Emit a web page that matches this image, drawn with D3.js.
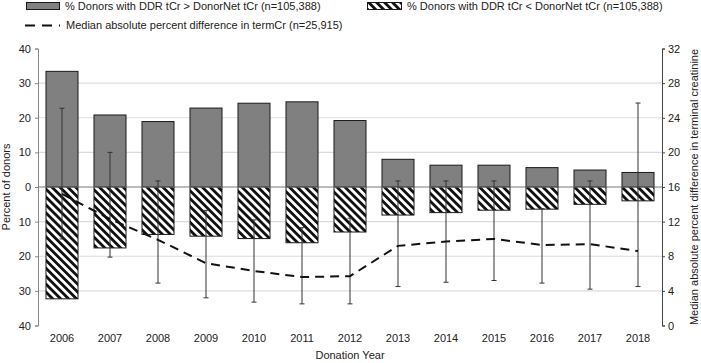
<!DOCTYPE html>
<html>
<head>
<meta charset="utf-8">
<script src="https://cdn.jsdelivr.net/npm/d3@7"></script>
<style>
  body { margin: 0; background: #fff; }
  text { font-family: "Liberation Sans", Arial, sans-serif; fill: #222; }
</style>
</head>
<body>
<script>
// data
var years = ["2006", "2007", "2008", "2009", "2010", "2011", "2012", "2013", "2014", "2015", "2016", "2017", "2018"];
var pctHigher = [33.4, 20.8, 18.9, 22.8, 24.2, 24.6, 19.2, 8.0, 6.3, 6.3, 5.6, 4.9, 4.2];
var pctLower = [32.3, 17.6, 13.7, 14.2, 14.9, 16.1, 13.0, 8.1, 7.4, 6.7, 6.4, 5.0, 4.0];
var medianDiff = [15.2, 12.3, 9.9, 7.2, 6.3, 5.6, 5.7, 9.2, 9.7, 10.0, 9.3, 9.4, 8.6];
var errLow = [10.0, 7.9, 4.9, 3.2, 2.7, 2.5, 2.5, 4.5, 5.0, 5.2, 4.9, 4.2, 4.5];
var errHigh = [25.1, 20.0, 16.7, 13.3, 12.2, 11.3, 12.4, 16.7, 16.7, 16.7, 13.5, 16.7, 25.7];
var leftTicks = [40, 30, 20, 10, 0, -10, -20, -30, -40];
var rightTicks = [0, 4, 8, 12, 16, 20, 24, 28, 32];

var W = 701, H = 363;
var margin = {top: 48.5, right: 39, bottom: 37.5, left: 38};
var width = W - margin.left - margin.right;
var height = H - margin.top - margin.bottom;

var svg = d3.select("body")
    .append("svg")
    .attr("width", W)
    .attr("height", H);

var defs = svg.append("defs");
var pat = defs.append("pattern")
    .attr("id", "hatch")
    .attr("patternUnits", "userSpaceOnUse")
    .attr("width", 5.6)
    .attr("height", 5.6)
    .attr("patternTransform", "rotate(-45)");
pat.append("rect").attr("width", 5.6).attr("height", 5.6).attr("fill", "#fff");
pat.append("rect").attr("width", 2.8).attr("height", 5.6).attr("fill", "#111");

var g = svg.append("g")
    .attr("transform", `translate(${margin.left}, ${margin.top})`);

const x = d3.scaleBand()
    .domain(years)
    .range([0, width])
    .paddingInner(0.333)
    .paddingOuter(0.1665);

const y = d3.scaleLinear()
    .domain([-40, 40])
    .range([height, 0]);

const y2 = d3.scaleLinear()
    .domain([0, 32])
    .range([height, 0]);

// gridlines
g.selectAll(".grid")
    .data(leftTicks.filter(d => d !== 0 && Math.abs(d) !== 40))
    .enter()
    .append("line")
    .attr("x1", 0)
    .attr("x2", width)
    .attr("y1", d => y(d))
    .attr("y2", d => y(d))
    .attr("stroke", "#dcdcdc")
    .attr("stroke-width", 1.2);

// positive bars
g.selectAll(".up")
    .data(years)
    .enter()
    .append("rect")
    .attr("x", d => x(d))
    .attr("y", (d, i) => y(pctHigher[i]))
    .attr("width", x.bandwidth())
    .attr("height", (d, i) => y(0) - y(pctHigher[i]))
    .attr("fill", "#808080")
    .attr("stroke", "#1a1a1a")
    .attr("stroke-width", 1);

// negative bars
g.selectAll(".down")
    .data(years)
    .enter()
    .append("rect")
    .attr("x", d => x(d))
    .attr("y", y(0))
    .attr("width", x.bandwidth())
    .attr("height", (d, i) => y(-pctLower[i]) - y(0))
    .attr("fill", "url(#hatch)")
    .attr("stroke", "#1a1a1a")
    .attr("stroke-width", 1);

// zero line
g.append("line")
    .attr("x1", 0)
    .attr("x2", width)
    .attr("y1", y(0))
    .attr("y2", y(0))
    .attr("stroke", "#7a7a7a")
    .attr("stroke-width", 1.2);

// error bars (right axis)
var eb = g.selectAll(".eb")
    .data(years)
    .enter()
    .append("g")
    .attr("stroke", "#333")
    .attr("stroke-width", 1);
eb.append("line")
    .attr("x1", d => x(d) + x.bandwidth() / 2)
    .attr("x2", d => x(d) + x.bandwidth() / 2)
    .attr("y1", (d, i) => y2(errLow[i]))
    .attr("y2", (d, i) => y2(errHigh[i]));
eb.append("line")
    .attr("x1", d => x(d) + x.bandwidth() / 2 - 2.5)
    .attr("x2", d => x(d) + x.bandwidth() / 2 + 2.5)
    .attr("y1", (d, i) => y2(errLow[i]))
    .attr("y2", (d, i) => y2(errLow[i]));
eb.append("line")
    .attr("x1", d => x(d) + x.bandwidth() / 2 - 2.5)
    .attr("x2", d => x(d) + x.bandwidth() / 2 + 2.5)
    .attr("y1", (d, i) => y2(errHigh[i]))
    .attr("y2", (d, i) => y2(errHigh[i]));

// median line
var line = d3.line()
    .x((d, i) => x(years[i]) + x.bandwidth() / 2)
    .y(d => y2(d));
g.append("path")
    .datum(medianDiff)
    .attr("d", line)
    .attr("fill", "none")
    .attr("stroke", "#111")
    .attr("stroke-width", 2)
    .attr("stroke-dasharray", "9,6");

// axes
var yAxis = d3.axisLeft(y)
    .tickValues(leftTicks)
    .tickSize(3)
    .tickFormat(d => Math.abs(d));
var ya = g.append("g").call(yAxis);
ya.select(".domain").attr("stroke", "#888");
ya.selectAll(".tick line").attr("stroke", "#888");
ya.selectAll("text").attr("font-size", 11).attr("x", -7);

var yAxis2 = d3.axisRight(y2)
    .tickValues(rightTicks)
    .tickSize(3);
var ya2 = g.append("g")
    .attr("transform", `translate(${width}, 0)`)
    .call(yAxis2);
ya2.select(".domain").attr("stroke", "#444");
ya2.selectAll(".tick line").attr("stroke", "#444");
ya2.selectAll("text").attr("font-size", 11).attr("x", 6);

var xAxis = d3.axisBottom(x).tickSize(0);
var xa = g.append("g")
    .attr("transform", `translate(0, ${height})`)
    .call(xAxis);
xa.select(".domain").remove();
xa.selectAll("text").attr("font-size", 11).attr("y", 9);

// axis titles
svg.append("text")
    .attr("x", 350)
    .attr("y", 359)
    .attr("text-anchor", "middle")
    .attr("font-size", 11)
    .text("Donation Year");

svg.append("text")
    .attr("transform", "rotate(-90)")
    .attr("x", -187)
    .attr("y", 10)
    .attr("text-anchor", "middle")
    .attr("font-size", 11)
    .text("Percent of donors");

svg.append("text")
    .attr("transform", "rotate(-90)")
    .attr("x", -187)
    .attr("y", 698)
    .attr("text-anchor", "middle")
    .attr("font-size", 11)
    .text("Median absolute percent difference in terminal creatinine");

// legend
var leg = svg.append("g");
leg.append("rect")
    .attr("x", 26.5).attr("y", 2.5).attr("width", 33).attr("height", 7)
    .attr("fill", "#808080").attr("stroke", "#1a1a1a");
leg.append("text")
    .attr("x", 65).attr("y", 10)
    .attr("font-size", 11)
    .text("% Donors with DDR tCr > DonorNet tCr (n=105,388)");
leg.append("rect")
    .attr("x", 367.5).attr("y", 2.5).attr("width", 34).attr("height", 7)
    .attr("fill", "url(#hatch)").attr("stroke", "#1a1a1a");
leg.append("text")
    .attr("x", 407).attr("y", 10)
    .attr("font-size", 11)
    .text("% Donors with DDR tCr < DonorNet tCr (n=105,388)");
leg.append("line")
    .attr("x1", 25).attr("x2", 60).attr("y1", 25.5).attr("y2", 25.5)
    .attr("stroke", "#111").attr("stroke-width", 2)
    .attr("stroke-dasharray", "10,7");
leg.append("text")
    .attr("x", 66).attr("y", 29)
    .attr("font-size", 11)
    .text("Median absolute percent difference in termCr (n=25,915)");
</script>
</body>
</html>
